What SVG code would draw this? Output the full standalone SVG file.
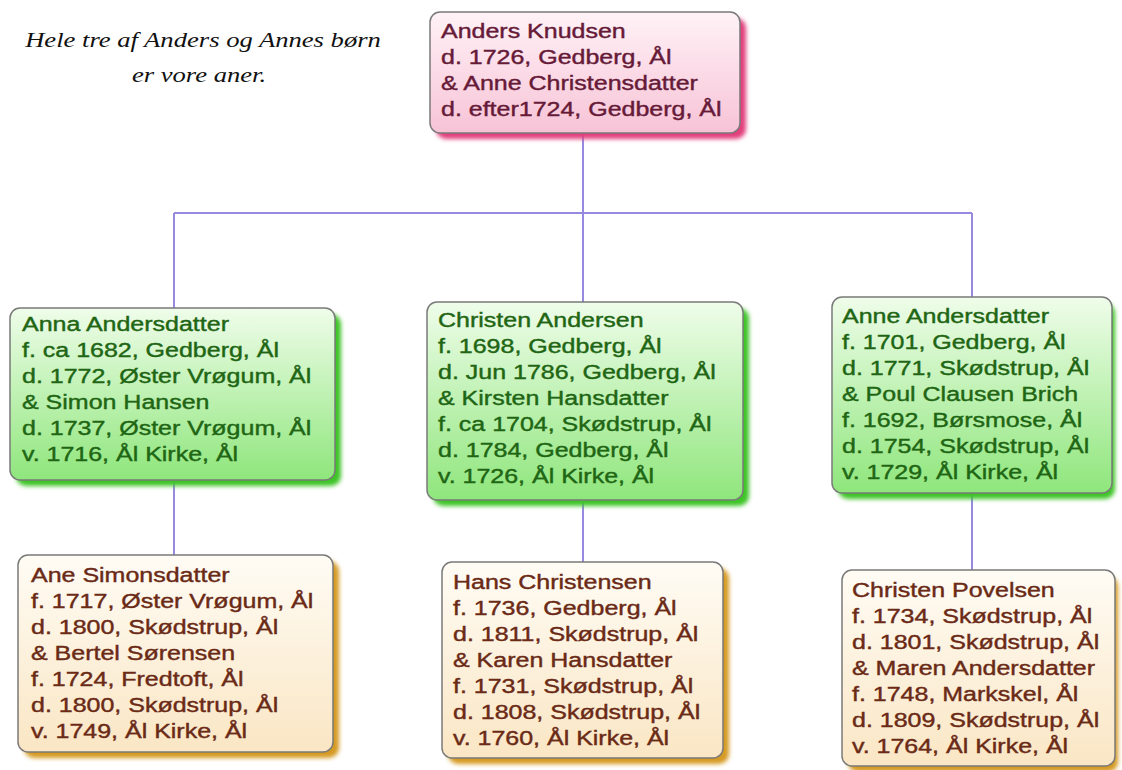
<svg xmlns="http://www.w3.org/2000/svg" width="1122" height="770" viewBox="0 0 1122 770">
<defs>
<linearGradient id="gPink" x1="0" y1="0" x2="0" y2="1"><stop offset="0" stop-color="#fff2f7"/><stop offset="1" stop-color="#f7c3d6"/></linearGradient>
<linearGradient id="gGreen" x1="0" y1="0" x2="0" y2="1"><stop offset="0" stop-color="#effdea"/><stop offset="1" stop-color="#8fe67c"/></linearGradient>
<linearGradient id="gOrange" x1="0" y1="0" x2="0" y2="1"><stop offset="0" stop-color="#fffcf5"/><stop offset="1" stop-color="#fae6c4"/></linearGradient>
<filter id="blur" x="-10%" y="-10%" width="120%" height="120%"><feGaussianBlur stdDeviation="2"/></filter>
<style>
.box{stroke:#7a7a7a;stroke-width:1.5}
.pink .box{fill:url(#gPink)}
.green .box{fill:url(#gGreen)}
.orange .box{fill:url(#gOrange)}
.sh{filter:url(#blur)}
.pink .sh{fill:#e2407c}
.green .sh{fill:#3cc426}
.orange .sh{fill:#d59a22}
.t{font-family:"Liberation Sans",Arial,sans-serif;font-size:20px;stroke-width:0.4}
.pink .t{fill:#661a38;stroke:#661a38}
.green .t{fill:#1f6614;stroke:#1f6614}
.orange .t{fill:#6a2a16;stroke:#6a2a16}
.note{font-family:"Liberation Serif","Times New Roman",serif;font-style:italic;font-size:22px;fill:#111}
.conn{fill:none;stroke:#958ae0;stroke-width:2}
</style>
</defs>
<rect width="1122" height="770" fill="#ffffff"/>

<g id="note">
<text class="note" transform="translate(203,47) scale(1.21,1)" text-anchor="middle">Hele tre af Anders og Annes børn</text>
<text class="note" transform="translate(199,82) scale(1.21,1)" text-anchor="middle">er vore aner.</text>
</g>

<g id="connectors">
<path class="conn" d="M583 133V213M174 213H972M174 213V308M583 213V302M972 213V297"/>
<path class="conn" d="M174 480V555M583 500V562M972 493V570"/>
</g>

<g id="n-anders" class="pink">
<rect class="sh" x="436" y="18" width="310" height="121" rx="10"/>
<rect class="box" x="430" y="12" width="310" height="121" rx="10"/>
<g transform="translate(441,38) scale(1.25,1)"><text class="t"><tspan x="0" y="0">Anders Knudsen</tspan><tspan x="0" y="26">d. 1726, Gedberg, Ål</tspan><tspan x="0" y="52">&amp; Anne Christensdatter</tspan><tspan x="0" y="78">d. efter1724, Gedberg, Ål</tspan></text></g>
</g>

<g id="n-anna" class="green">
<rect class="sh" x="16" y="314" width="325" height="172" rx="10"/>
<rect class="box" x="10" y="308" width="325" height="172" rx="10"/>
<g transform="translate(22,331) scale(1.25,1)"><text class="t"><tspan x="0" y="0">Anna Andersdatter</tspan><tspan x="0" y="26">f. ca 1682, Gedberg, Ål</tspan><tspan x="0" y="52">d. 1772, Øster Vrøgum, Ål</tspan><tspan x="0" y="78">&amp; Simon Hansen</tspan><tspan x="0" y="104">d. 1737, Øster Vrøgum, Ål</tspan><tspan x="0" y="130">v. 1716, Ål Kirke, Ål</tspan></text></g>
</g>

<g id="n-christen" class="green">
<rect class="sh" x="433" y="308" width="316" height="198" rx="10"/>
<rect class="box" x="427" y="302" width="316" height="198" rx="10"/>
<g transform="translate(438,327) scale(1.25,1)"><text class="t"><tspan x="0" y="0">Christen Andersen</tspan><tspan x="0" y="26">f. 1698, Gedberg, Ål</tspan><tspan x="0" y="52">d. Jun 1786, Gedberg, Ål</tspan><tspan x="0" y="78">&amp; Kirsten Hansdatter</tspan><tspan x="0" y="104">f. ca 1704, Skødstrup, Ål</tspan><tspan x="0" y="130">d. 1784, Gedberg, Ål</tspan><tspan x="0" y="156">v. 1726, Ål Kirke, Ål</tspan></text></g>
</g>

<g id="n-anne" class="green">
<rect class="sh" x="838" y="303" width="277" height="196" rx="10"/>
<rect class="box" x="832" y="297" width="280" height="196" rx="10"/>
<g transform="translate(842,323) scale(1.25,1)"><text class="t"><tspan x="0" y="0">Anne Andersdatter</tspan><tspan x="0" y="26">f. 1701, Gedberg, Ål</tspan><tspan x="0" y="52">d. 1771, Skødstrup, Ål</tspan><tspan x="0" y="78">&amp; Poul Clausen Brich</tspan><tspan x="0" y="104">f. 1692, Børsmose, Ål</tspan><tspan x="0" y="130">d. 1754, Skødstrup, Ål</tspan><tspan x="0" y="156">v. 1729, Ål Kirke, Ål</tspan></text></g>
</g>

<g id="n-ane" class="orange">
<rect class="sh" x="24" y="561" width="315" height="197" rx="10"/>
<rect class="box" x="18" y="555" width="315" height="197" rx="10"/>
<g transform="translate(31,582) scale(1.25,1)"><text class="t"><tspan x="0" y="0">Ane Simonsdatter</tspan><tspan x="0" y="26">f. 1717, Øster Vrøgum, Ål</tspan><tspan x="0" y="52">d. 1800, Skødstrup, Ål</tspan><tspan x="0" y="78">&amp; Bertel Sørensen</tspan><tspan x="0" y="104">f. 1724, Fredtoft, Ål</tspan><tspan x="0" y="130">d. 1800, Skødstrup, Ål</tspan><tspan x="0" y="156">v. 1749, Ål Kirke, Ål</tspan></text></g>
</g>

<g id="n-hans" class="orange">
<rect class="sh" x="448" y="568" width="281" height="196" rx="10"/>
<rect class="box" x="442" y="562" width="281" height="196" rx="10"/>
<g transform="translate(453,589) scale(1.25,1)"><text class="t"><tspan x="0" y="0">Hans Christensen</tspan><tspan x="0" y="26">f. 1736, Gedberg, Ål</tspan><tspan x="0" y="52">d. 1811, Skødstrup, Ål</tspan><tspan x="0" y="78">&amp; Karen Hansdatter</tspan><tspan x="0" y="104">f. 1731, Skødstrup, Ål</tspan><tspan x="0" y="130">d. 1808, Skødstrup, Ål</tspan><tspan x="0" y="156">v. 1760, Ål Kirke, Ål</tspan></text></g>
</g>

<g id="n-povelsen" class="orange">
<rect class="sh" x="848" y="576" width="270" height="196" rx="10"/>
<rect class="box" x="842" y="570" width="273" height="196" rx="10"/>
<g transform="translate(852,597) scale(1.25,1)"><text class="t"><tspan x="0" y="0">Christen Povelsen</tspan><tspan x="0" y="26">f. 1734, Skødstrup, Ål</tspan><tspan x="0" y="52">d. 1801, Skødstrup, Ål</tspan><tspan x="0" y="78">&amp; Maren Andersdatter</tspan><tspan x="0" y="104">f. 1748, Markskel, Ål</tspan><tspan x="0" y="130">d. 1809, Skødstrup, Ål</tspan><tspan x="0" y="156">v. 1764, Ål Kirke, Ål</tspan></text></g>
</g>
</svg>
